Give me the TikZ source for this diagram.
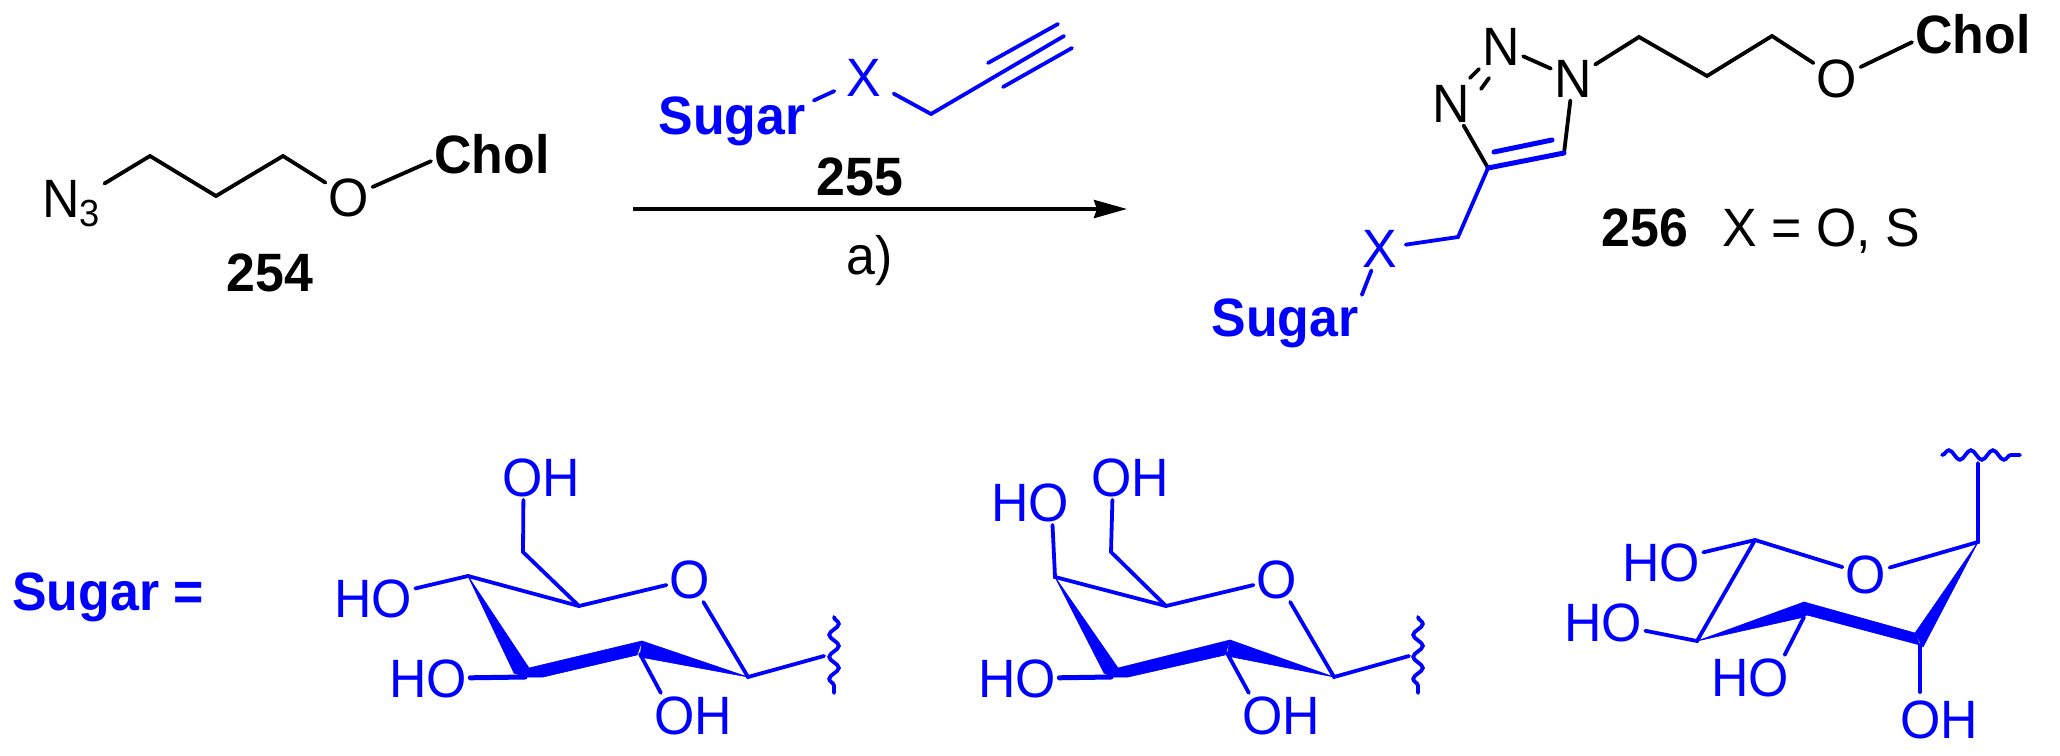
\documentclass[tikz,border=0pt]{standalone}
\usepackage{fontspec}
\setmainfont{Liberation Sans}[FakeStretch=0.96]
\usepackage{pgf,tikz}
\usetikzlibrary{arrows.meta, positioning, decorations.pathmorphing}
\newcommand{\chemfont}{\fontsize{27}{30}\selectfont}
\tikzstyle{atomlabel} = [inner sep=1.5pt, anchor=base, font=\chemfont]
\tikzstyle{boldlabel} = [atomlabel, font=\chemfont\bfseries]
\tikzstyle{bond} = [line width=1.9pt, black, line cap=round]
\tikzstyle{bluebond} = [line width=1.9pt, blue, line cap=round]
\tikzstyle{thickbond} = [line width=2.5pt, blue, line cap=round]
\tikzstyle{wedgebond} = [fill=blue, draw=blue, line width=0.3pt, line join=round]
\tikzstyle{wavybond} = [line width=1.9pt, blue, line cap=round, decorate, decoration={snake, amplitude=2.4pt, segment length=11pt}]
\tikzstyle{rxnarrow} = [line width=1.9pt, -{Stealth[length=16.5pt, width=9pt, inset=1.5pt]}]

\begin{document}
\begin{tikzpicture}[x=0.5pt, y=-0.5pt]
	\useasboundingbox (0,0) rectangle (2060,755);
	% compound 254
	\node[atomlabel, anchor=base west] (azide) at (39,217) {N\textsubscript{3}};
	\coordinate (a1) at (150,156);
	\coordinate (a2) at (216,196);
	\coordinate (a3) at (283,156);
	\node[atomlabel] (oxya) at (349,216) {O};
	\node[boldlabel] (chola) at (492,173) {Chol};
	\draw[bond] (azide) -- (a1) -- (a2) -- (a3) -- (oxya) -- (chola.187);
	\node[boldlabel] (numa) at (270,291) {254};
	% alkyne 255
	\node[boldlabel, text=blue, inner xsep=4pt] (sugara) at (732,134) {Sugar};
	\node[atomlabel, text=blue, inner xsep=6pt] (xa) at (864,96) {X};
	\coordinate (b1) at (931,114);
	\coordinate (b2) at (1064,36);
	\coordinate (b3) at (988,63);
	\coordinate (b4) at (1058,24);
	\coordinate (b5) at (1003,87);
	\coordinate (b6) at (1072,48);
	\draw[bluebond] (sugara.14) -- (xa) -- (b1) -- (b2);
	\draw[bluebond] (b3) -- (b4);
	\draw[bluebond] (b5) -- (b6);
	\node[boldlabel] (numb) at (860,195) {255};
	% reaction arrow
	\coordinate (rxna) at (633,209);
	\coordinate (rxnb) at (1127,209);
	\draw[rxnarrow] (rxna) -- (rxnb);
	\node[atomlabel] (cond) at (870,274) {a)};
	% product 256
	\node[atomlabel] (nleft) at (1451,122) {N};
	\node[atomlabel] (ntop) at (1501,65) {N};
	\node[atomlabel] (nright) at (1573,97) {N};
	\coordinate (c5) at (1564,153);
	\coordinate (c4) at (1488,168);
	\coordinate (d1) at (1470,78);
	\coordinate (d2) at (1479,69);
	\coordinate (d3) at (1481,89);
	\coordinate (d4) at (1489,78);
	\coordinate (d5) at (1552,140);
	\coordinate (d6) at (1494,152);
	\draw[bond] (d1) -- (d2);
	\draw[bond] (d3) -- (d4);
	\draw[bond] (ntop) -- (nright) -- (c5);
	\draw[bond] (nleft) -- (c4);
	\draw[thickbond] (c5) -- (c4);
	\draw[thickbond] (d5) -- (d6);
	\coordinate (p1) at (1639,37);
	\coordinate (p2) at (1707,76);
	\coordinate (p3) at (1772,36);
	\node[atomlabel] (oxyb) at (1837,97) {O};
	\node[boldlabel] (cholb) at (1973,54) {Chol};
	\draw[bond] (nright) -- (p1) -- (p2) -- (p3) -- (oxyb) -- (cholb.187);
	\coordinate (ch2) at (1458,237);
	\node[atomlabel, text=blue, inner xsep=4pt] (xb) at (1380,267) {X};
	\node[boldlabel, text=blue] (sugarb) at (1285,336) {Sugar};
	\draw[bluebond] (c4) -- (ch2) -- (xb) -- (sugarb.north east);
	\node[boldlabel, anchor=base west] (numc) at (1598,246) {256};
	\node[atomlabel, anchor=base west] (xlist) at (1719,246) {X = O, S};
	% sugars
	\node[boldlabel, text=blue, anchor=base west] (sugarc) at (9,610) {Sugar =};
	% glucose
	\node[atomlabel, text=blue] (ha1) at (541,496) {OH};
	\node[atomlabel, text=blue] (ha2) at (373,617) {HO};
	\node[atomlabel, text=blue] (ha3) at (428,697) {HO};
	\node[atomlabel, text=blue] (ha4) at (693,734) {OH};
	\node[atomlabel, text=blue] (oa) at (690,598) {O};
	\coordinate (ga1) at (523,552);
	\coordinate (ga2) at (579,606);
	\coordinate (ga3) at (468,576);
	\coordinate (ga4) at (748,677);
	\coordinate (ga5) at (824,656);
	\coordinate (ga6) at (640,654);
	\coordinate (ga7) at (525,677);
	\coordinate (wa1) at (834,617);
	\coordinate (wa2) at (834,693);
	\draw[bluebond] (ha1.232) -- (ga1) -- (ga2) -- (oa) -- (ga4) -- (ga5);
	\draw[bluebond] (ha2) -- (ga3) -- (ga2);
	\draw[bluebond] (ga6) -- (ha4.145);
	\draw[thickbond] (ha3) -- (ga7);
	\draw[wavybond] (wa1) -- (wa2);
	\fill[wedgebond] (ga3) -- (514,673) -- (529,668) -- cycle;
	\fill[wedgebond] (529,668) -- (642,641) -- (637,655) -- (543,677) -- (525,677) -- (514,673) -- cycle;
	\fill[wedgebond] (642,641) -- (ga4) -- (640,657) -- cycle;
	% galactose
	\node[atomlabel, text=blue] (hb1) at (1130,496) {OH};
	\node[atomlabel, text=blue] (hb2) at (1030,521) {HO};
	\node[atomlabel, text=blue] (hb3) at (1017,697) {HO};
	\node[atomlabel, text=blue] (hb4) at (1281,734) {OH};
	\node[atomlabel, text=blue] (ob) at (1277,598) {O};
	\coordinate (gb1) at (1111,552);
	\coordinate (gb2) at (1166,606);
	\coordinate (gb3) at (1055,577);
	\coordinate (gb4) at (1334,677);
	\coordinate (gb5) at (1409,656);
	\coordinate (gb6) at (1227,653);
	\coordinate (gb7) at (1111,677);
	\coordinate (wb1) at (1418,617);
	\coordinate (wb2) at (1418,693);
	\draw[bluebond] (hb1.232) -- (gb1) -- (gb2) -- (ob) -- (gb4) -- (gb5);
	\draw[bluebond] (hb2.315) -- (gb3) -- (gb2);
	\draw[bluebond] (gb6) -- (hb4.145);
	\draw[thickbond] (hb3) -- (gb7);
	\draw[wavybond] (wb1) -- (wb2);
	\fill[wedgebond] (gb3) -- (1104,673) -- (1118,668) -- cycle;
	\fill[wedgebond] (1118,668) -- (1230,640) -- (1225,655) -- (1128,677) -- (1112,677) -- (1104,673) -- cycle;
	\fill[wedgebond] (1230,640) -- (gb4) -- (1227,656) -- cycle;
	% arabinose
	\node[atomlabel, text=blue] (hc1) at (1661,581) {HO};
	\node[atomlabel, text=blue] (hc2) at (1603,641) {HO};
	\node[atomlabel, text=blue] (hc3) at (1750,696) {HO};
	\node[atomlabel, text=blue] (hc4) at (1939,738) {OH};
	\node[atomlabel, text=blue] (oc) at (1866,593) {O};
	\coordinate (gc1) at (1978,463);
	\coordinate (gc2) at (1978,542);
	\coordinate (gc3) at (1755,540);
	\coordinate (gc4) at (1697,641);
	\coordinate (gc5) at (1804,617);
	\coordinate (gc6) at (1920,645);
	\coordinate (gc7) at (1920,692);
	\coordinate (wc1) at (1942,455);
	\coordinate (wc2) at (2020,455);
	\draw[bluebond] (gc1) -- (gc2) -- (oc) -- (gc3) -- (hc1);
	\draw[bluebond] (gc3) -- (gc4) -- (hc2);
	\draw[bluebond] (gc5) -- (hc3.33);
	\draw[bluebond] (gc6) -- (gc7);
	\draw[wavybond] (wc1) -- (wc2);
	\fill[wedgebond] (gc4) -- (1804,602) -- (1800,618) -- cycle;
	\fill[wedgebond] (1804,602) -- (1915,633) -- (gc6) -- (1807,615) -- (1800,618) -- cycle;
	\fill[wedgebond] (gc2) -- (1915,633) -- (1923,647) -- cycle;
\end{tikzpicture}
\end{document}
